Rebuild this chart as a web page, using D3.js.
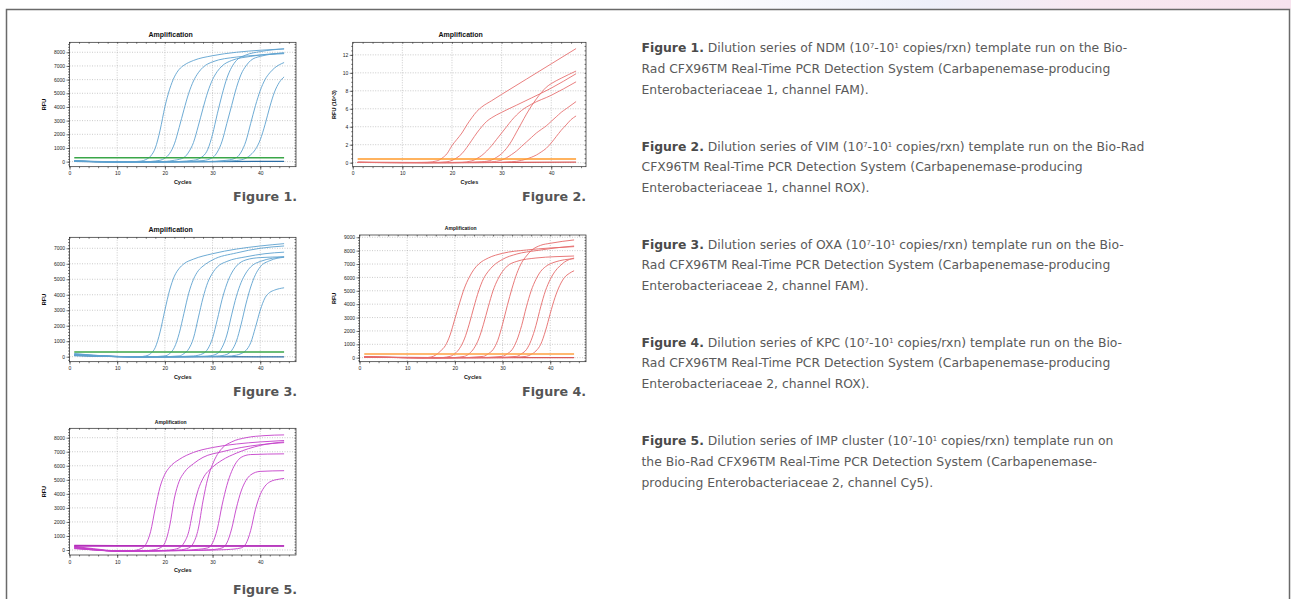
<!DOCTYPE html>
<html>
<head>
<meta charset="utf-8">
<script src="https://cdn.jsdelivr.net/npm/d3@7"></script>
<style>
  html, body { margin: 0; padding: 0; background: #fff; }
  svg { display: block; }
</style>
</head>
<body>
<svg id="page" width="1291" height="599"></svg>
<script>
// ---- data ----
const cycleTicks = [0, 10, 20, 30, 40];
const ndmTicks = [0, 1000, 2000, 3000, 4000, 5000, 6000, 7000, 8000];
const vimTicks = [0, 2, 4, 6, 8, 10, 12];
const oxaTicks = [0, 1000, 2000, 3000, 4000, 5000, 6000, 7000];
const kpcTicks = [0, 1000, 2000, 3000, 4000, 5000, 6000, 7000, 8000, 9000];
const impTicks = [0, 1000, 2000, 3000, 4000, 5000, 6000, 7000, 8000];

// threshold line of each run, in the plot's own units
const thresholds = [280, 0.4, 300, 280, 290];

// curves are [cycle, RFU] points
const ndmCurves = [
  [[1,60],[8,0],[12,-20],[15,40],[16,150],[17,400],[18,1000],[19,2300],[20,4000],[21,5300],[22,6200],[23,6750],[24,7050],[26,7400],[30,7750],[35,8000],[40,8150],[45,8250]],
  [[1,60],[10,-20],[15,-20],[19,100],[20,250],[21,600],[22,1300],[23,2500],[24,3800],[25,5000],[26,5900],[27,6500],[28,6900],[30,7300],[35,7650],[40,7800],[45,7900]],
  [[1,50],[10,-30],[18,-20],[22,100],[24,300],[25,700],[26,1400],[27,2600],[28,3900],[29,5100],[30,6000],[31,6600],[32,7000],[34,7400],[38,7700],[45,7950]],
  [[1,50],[10,-30],[20,-20],[26,100],[28,400],[29,900],[30,2000],[31,3500],[32,4900],[33,6100],[34,6900],[35,7400],[37,7800],[40,8050],[45,8250]],
  [[1,40],[10,-30],[22,-20],[28,80],[30,300],[31,700],[32,1500],[33,2800],[34,4100],[35,5400],[36,6400],[37,7000],[38,7400],[40,7700],[45,7950]],
  [[1,30],[15,-30],[28,0],[33,100],[35,300],[36,700],[37,1500],[38,2800],[39,4100],[40,5200],[41,6000],[42,6500],[43,6850],[45,7250]],
  [[1,30],[15,-30],[30,0],[35,80],[37,250],[38,500],[39,900],[40,1600],[41,2700],[42,4000],[43,5100],[44,5800],[45,6200]]
];
const ndmBlank = [[1,20],[10,-10],[20,0],[30,5],[45,20]];

const vimCurves = [
  [[1,0.02],[10,0],[15,0.05],[17,0.2],[18,0.5],[19,1.0],[20,1.9],[21,2.6],[22,3.3],[23,4.2],[24,5.0],[25,5.7],[26,6.2],[28,6.9],[30,7.6],[35,9.3],[40,11.0],[45,12.7]],
  [[1,0.02],[15,0],[19,0.1],[20,0.25],[21,0.55],[22,1.0],[23,1.7],[24,2.5],[25,3.3],[26,4.0],[27,4.6],[28,5.0],[30,5.6],[33,6.4],[36,7.2],[40,8.3],[45,9.9]],
  [[1,0.02],[15,0],[22,0.05],[24,0.2],[25,0.45],[26,0.8],[27,1.3],[28,1.9],[29,2.6],[30,3.3],[31,4.0],[32,4.7],[33,5.3],[34,5.8],[36,6.5],[40,7.5],[45,9.0]],
  [[1,0.02],[20,0],[26,0.1],[28,0.3],[29,0.6],[30,1.0],[31,1.6],[32,2.4],[33,3.4],[34,4.4],[35,5.4],[36,6.3],[37,7.1],[38,7.8],[39,8.4],[40,8.8],[42,9.4],[45,10.2]],
  [[1,0.02],[20,0],[28,0.1],[30,0.3],[31,0.55],[32,0.9],[33,1.3],[34,1.8],[35,2.3],[36,2.8],[37,3.3],[38,3.7],[39,4.1],[40,4.6],[41,5.1],[42,5.6],[43,6.0],[45,6.8]],
  [[1,0.02],[25,0],[32,0.1],[34,0.25],[35,0.4],[36,0.6],[37,0.85],[38,1.2],[39,1.6],[40,2.2],[41,2.9],[42,3.6],[43,4.2],[44,4.8],[45,5.2]]
];
const vimBlank = [[1,0.05],[15,0],[30,0.02],[45,0.05]];

const oxaCurves = [
  [[1,200],[5,100],[10,20],[14,-20],[16,50],[17,200],[18,600],[19,1600],[20,3000],[21,4300],[22,5200],[23,5700],[24,6000],[26,6300],[30,6650],[35,6950],[40,7150],[45,7300]],
  [[1,180],[10,10],[15,-30],[20,50],[21,200],[22,600],[23,1500],[24,2800],[25,4100],[26,5000],[27,5550],[28,5850],[30,6250],[35,6700],[40,7000],[45,7150]],
  [[1,150],[10,0],[17,-30],[23,50],[24,200],[25,500],[26,1200],[27,2500],[28,3800],[29,4800],[30,5400],[31,5800],[33,6150],[37,6450],[41,6650],[45,6750]],
  [[1,130],[10,0],[18,-30],[26,50],[28,200],[29,500],[30,1200],[31,2400],[32,3700],[33,4700],[34,5400],[35,5850],[37,6250],[40,6400],[45,6450]],
  [[1,110],[10,0],[20,-30],[29,40],[31,200],[32,600],[33,1400],[34,2700],[35,3900],[36,4800],[37,5400],[38,5800],[40,6150],[45,6450]],
  [[1,90],[12,0],[22,-20],[31,40],[33,150],[34,400],[35,1000],[36,2100],[37,3400],[38,4500],[39,5300],[40,5800],[42,6200],[45,6420]],
  [[1,60],[15,0],[25,-10],[33,30],[35,100],[36,200],[37,400],[38,900],[39,1900],[40,3000],[41,3800],[42,4150],[43,4300],[45,4450]]
];
const oxaBlank = [[1,80],[10,10],[25,0],[45,-10]];

const kpcCurves = [
  [[1,60],[10,0],[13,-20],[15,50],[16,200],[17,500],[18,900],[19,1700],[20,2900],[21,4100],[22,5200],[23,6000],[24,6600],[25,7000],[27,7450],[30,7800],[35,8050],[40,8200],[45,8300]],
  [[1,60],[10,0],[16,-20],[19,100],[20,300],[21,700],[22,1400],[23,2500],[24,3800],[25,5000],[26,5900],[27,6450],[28,6850],[30,7350],[33,7750],[37,8000],[41,8200],[45,8350]],
  [[1,50],[10,0],[18,-20],[22,100],[23,300],[24,700],[25,1400],[26,2500],[27,3800],[28,5000],[29,5850],[30,6450],[31,6850],[33,7200],[37,7450],[41,7550],[45,7600]],
  [[1,50],[10,0],[20,-10],[26,100],[27,300],[28,600],[29,1300],[30,2500],[31,3900],[32,5200],[33,6300],[34,7100],[35,7600],[36,8000],[38,8400],[40,8550],[45,8800]],
  [[1,40],[15,0],[24,0],[30,100],[31,300],[32,600],[33,1300],[34,2400],[35,3800],[36,5000],[37,5850],[38,6450],[39,6800],[41,7150],[45,7400]],
  [[1,30],[15,0],[27,0],[33,100],[34,300],[35,600],[36,1300],[37,2400],[38,3800],[39,5000],[40,5850],[41,6450],[42,6850],[43,7150],[45,7450]],
  [[1,30],[15,0],[30,0],[35,100],[36,250],[37,500],[38,1000],[39,2000],[40,3300],[41,4500],[42,5400],[43,6000],[44,6300],[45,6500]]
];
const kpcBlank = [[1,40],[15,0],[45,10]];

const impCurves = [
  [[1,250],[5,100],[10,-60],[13,-50],[15,100],[16,400],[17,1300],[18,3000],[19,4500],[20,5400],[21,5900],[23,6450],[26,6950],[30,7300],[35,7550],[40,7700],[45,7800]],
  [[1,230],[5,50],[10,-80],[14,-80],[17,-20],[19,150],[20,500],[21,1700],[22,3700],[23,4900],[24,5500],[26,6150],[28,6600],[32,7000],[36,7300],[40,7500],[45,7650]],
  [[1,200],[5,50],[10,-90],[16,-80],[21,0],[23,150],[24,500],[25,1300],[26,3000],[27,4300],[28,5100],[30,5900],[32,6400],[35,6900],[40,7450],[45,7700]],
  [[1,180],[5,40],[10,-90],[18,-70],[23,0],[25,150],[26,500],[27,1500],[28,3500],[29,5100],[30,6100],[31,6800],[32,7250],[34,7700],[37,8000],[41,8150],[45,8200]],
  [[1,150],[10,-80],[20,-60],[27,50],[29,150],[30,500],[31,1500],[32,3200],[33,4600],[34,5600],[35,6250],[36,6600],[38,6800],[45,6850]],
  [[1,120],[10,-60],[22,-50],[30,30],[32,150],[33,500],[34,1500],[35,3000],[36,4200],[37,4950],[38,5350],[40,5600],[45,5650]],
  [[1,100],[10,-50],[25,-40],[33,30],[36,150],[37,450],[38,1400],[39,2900],[40,3950],[41,4550],[42,4850],[44,5050],[45,5100]]
];
const impBlank = [[1,330],[10,310],[25,300],[45,300]];

const panelTitles = ["Amplification", "Amplification", "Amplification", "Amplification", "Amplification"];
const yAxisLabels = ["RFU", "RFU (10^3)", "RFU", "RFU", "RFU"];
const figureLabels = ["Figure 1.", "Figure 2.", "Figure 3.", "Figure 4.", "Figure 5."];

// ** ** = bold, ^n = superscript
const captions = [
  ["**Figure 1.** Dilution series of NDM (10^7-10^1 copies/rxn) template run on the Bio-",
   "Rad CFX96TM Real-Time PCR Detection System (Carbapenemase-producing",
   "Enterobacteriaceae 1, channel FAM)."],
  ["**Figure 2.** Dilution series of VIM (10^7-10^1 copies/rxn) template run on the Bio-Rad",
   "CFX96TM Real-Time PCR Detection System (Carbapenemase-producing",
   "Enterobacteriaceae 1, channel ROX)."],
  ["**Figure 3.** Dilution series of OXA (10^7-10^1 copies/rxn) template run on the Bio-",
   "Rad CFX96TM Real-Time PCR Detection System (Carbapenemase-producing",
   "Enterobacteriaceae 2, channel FAM)."],
  ["**Figure 4.** Dilution series of KPC (10^7-10^1 copies/rxn) template run on the Bio-",
   "Rad CFX96TM Real-Time PCR Detection System (Carbapenemase-producing",
   "Enterobacteriaceae 2, channel ROX)."],
  ["**Figure 5.** Dilution series of IMP cluster (10^7-10^1 copies/rxn) template run on",
   "the Bio-Rad CFX96TM Real-Time PCR Detection System (Carbapenemase-",
   "producing Enterobacteriaceae 2, channel Cy5)."]
];

// ---- layout ----
const svg = d3.select("#page");

const defs = svg.append("defs");
const grad = defs.append("linearGradient").attr("id", "topwash");
grad.append("stop").attr("offset", "0.5").attr("stop-color", "#ffffff");
grad.append("stop").attr("offset", "0.72").attr("stop-color", "#eef0fa");
grad.append("stop").attr("offset", "0.85").attr("stop-color", "#f8e8f1");
grad.append("stop").attr("offset", "1").attr("stop-color", "#f7e3ee");
svg.append("rect").attr("x", 0).attr("y", 0).attr("width", 1291).attr("height", 9).attr("fill", "url(#topwash)");

svg.append("rect")
  .attr("x", 6.5).attr("y", 9.5).attr("width", 1283).attr("height", 640)
  .attr("fill", "#fff").attr("stroke", "#6a6a6a").attr("stroke-width", 1.5);

const panels = [
  { curves: ndmCurves, blank: ndmBlank, ticks: ndmTicks, minor: 200, yDomain: [-370, 8730],
    left: 69.5, right: 296, top: 42.3, bottom: 166.7, xMax: 47.5, titleX: 170.7, titleY: 36.5, titleSize: 7,
    yLabelX: 44, color: "#5da2cf", blankColor: "#2c6da4", thrColor: "#3aa648" },
  { curves: vimCurves, blank: vimBlank, ticks: vimTicks, minor: 0.5, yDomain: [-0.45, 13.4],
    left: 352.7, right: 586, top: 42.3, bottom: 166.7, xMax: 47, titleX: 460.7, titleY: 36.5, titleSize: 7,
    yLabelX: 334, color: "#e77272", blankColor: "#d65a5a", thrColor: "#ff9a2a" },
  { curves: oxaCurves, blank: oxaBlank, ticks: oxaTicks, minor: 200, yDomain: [-323, 7710],
    left: 69.5, right: 296, top: 237.3, bottom: 361.7, xMax: 47.5, titleX: 170.7, titleY: 231.5, titleSize: 7,
    yLabelX: 44, color: "#5da2cf", blankColor: "#2c6da4", thrColor: "#3aa648" },
  { curves: kpcCurves, blank: kpcBlank, ticks: kpcTicks, minor: 200, yDomain: [-300, 9170],
    left: 359.5, right: 586, top: 235, bottom: 361.7, xMax: 47.5, titleX: 460.7, titleY: 229.5, titleSize: 5,
    yLabelX: 334, color: "#e56a6a", blankColor: "#d65a5a", thrColor: "#ffa040" },
  { curves: impCurves, blank: impBlank, ticks: impTicks, minor: 200, yDomain: [-356, 8670],
    left: 69.5, right: 296, top: 428.3, bottom: 555, xMax: 47.5, titleX: 170.7, titleY: 423.5, titleSize: 5,
    yLabelX: 44, color: "#c43fca", blankColor: "#b02fb6", thrColor: "#b530bb" }
];

const chartFont = "Liberation Sans, Arial, sans-serif";

function drawPanel(p, i) {
  const g = svg.append("g").attr("font-family", chartFont);
  const x = d3.scaleLinear().domain([0, p.xMax]).range([p.left, p.right]);
  const y = d3.scaleLinear().domain(p.yDomain).range([p.bottom, p.top]);

  // dotted grid
  g.append("g").selectAll("line").data(cycleTicks.filter(t => t > 0)).join("line")
    .attr("x1", d => x(d)).attr("x2", d => x(d)).attr("y1", p.top).attr("y2", p.bottom)
    .attr("stroke", "#a8a8a8").attr("stroke-width", 0.6).attr("stroke-dasharray", "1,1.5");
  g.append("g").selectAll("line").data(p.ticks).join("line")
    .attr("x1", p.left).attr("x2", p.right).attr("y1", d => y(d)).attr("y2", d => y(d))
    .attr("stroke", "#a8a8a8").attr("stroke-width", 0.6).attr("stroke-dasharray", "1,1.5");

  // clip
  const clipId = "clip" + i;
  defs.append("clipPath").attr("id", clipId).append("rect")
    .attr("x", p.left).attr("y", p.top).attr("width", p.right - p.left).attr("height", p.bottom - p.top);

  const line = d3.line().x(d => x(d[0])).y(d => y(d[1])).curve(d3.curveMonotoneX);
  const plot = g.append("g").attr("clip-path", `url(#${clipId})`);

  plot.append("path").attr("d", line(p.blank)).attr("fill", "none")
    .attr("stroke", p.blankColor).attr("stroke-width", 1.2);
  plot.selectAll("path.amp").data(p.curves).join("path").attr("class", "amp")
    .attr("d", d => line(d)).attr("fill", "none")
    .attr("stroke", p.color).attr("stroke-width", 0.9);

  plot.append("line")
    .attr("x1", x(1)).attr("x2", x(45)).attr("y1", y(thresholds[i])).attr("y2", y(thresholds[i]))
    .attr("stroke", p.thrColor).attr("stroke-width", 1.6);

  // axes
  const step = p.ticks[1] - p.ticks[0];
  const yMinor = d3.range(p.yDomain[0] < 0 ? -step : 0, p.yDomain[1], p.minor)
    .map(v => +v.toFixed(3)).filter(v => v >= p.yDomain[0] && v <= p.yDomain[1]);
  const xMinor = d3.range(0, p.xMax, 2);
  const fmt = d => d;

  const styleAxis = sel => {
    sel.select(".domain").remove();
    sel.selectAll("line").attr("stroke", "#222").attr("stroke-width", 0.6);
    sel.selectAll("text").attr("font-size", 5).attr("fill", "#222").attr("font-family", chartFont);
  };

  g.append("g").attr("transform", `translate(${p.left},0)`)
    .call(d3.axisLeft(y).tickValues(yMinor).tickSize(1.5).tickFormat("")).call(styleAxis);
  g.append("g").attr("transform", `translate(${p.left},0)`)
    .call(d3.axisLeft(y).tickValues(p.ticks).tickSize(3).tickPadding(1.5).tickFormat(fmt)).call(styleAxis);
  g.append("g").attr("transform", `translate(${p.right},0)`)
    .call(d3.axisLeft(y).tickValues(yMinor).tickSize(1.5).tickFormat("")).call(styleAxis);
  g.append("g").attr("transform", `translate(0,${p.bottom})`)
    .call(d3.axisBottom(x).tickValues(xMinor).tickSize(1.5).tickFormat("")).call(styleAxis);
  g.append("g").attr("transform", `translate(0,${p.bottom})`)
    .call(d3.axisBottom(x).tickValues(cycleTicks).tickSize(3).tickPadding(2).tickFormat(fmt)).call(styleAxis);
  g.append("g").attr("transform", `translate(0,${p.top})`)
    .call(d3.axisTop(x).tickValues(xMinor).tickSize(-1.5).tickFormat("")).call(styleAxis);

  // frame
  g.append("rect").attr("x", p.left).attr("y", p.top)
    .attr("width", p.right - p.left).attr("height", p.bottom - p.top)
    .attr("fill", "none").attr("stroke", "#222").attr("stroke-width", 0.7);

  // labels
  g.append("text").attr("x", p.titleX).attr("y", p.titleY).attr("text-anchor", "middle")
    .attr("font-size", p.titleSize).attr("font-weight", "bold").attr("fill", "#111")
    .text(panelTitles[i]);
  g.append("text").attr("x", (p.left + p.right) / 2).attr("y", p.bottom + 17)
    .attr("text-anchor", "middle").attr("font-size", 5.5).attr("font-weight", "bold").attr("fill", "#111")
    .text("Cycles");
  g.append("text")
    .attr("transform", `translate(${p.yLabelX + 2},${(p.top + p.bottom) / 2}) rotate(-90)`)
    .attr("text-anchor", "middle").attr("font-size", 5.5).attr("font-weight", "bold").attr("fill", "#111")
    .text(yAxisLabels[i]);
}

panels.forEach(drawPanel);

// figure labels under the plots
const captionFont = "DejaVu Sans, Verdana, sans-serif";
const labelPos = [[297, 200.5], [586, 200.5], [297, 395.5], [586, 395.5], [297, 593.5]];
const probe = svg.append("text").attr("font-family", captionFont).attr("font-weight", "bold")
  .attr("font-size", 16).text(figureLabels[0]);
const labelSize = 16 * 64 / probe.node().getComputedTextLength();
probe.remove();

svg.append("g").selectAll("text").data(figureLabels).join("text")
  .attr("x", (d, i) => labelPos[i][0]).attr("y", (d, i) => labelPos[i][1])
  .attr("text-anchor", "end").attr("font-family", captionFont).attr("font-weight", "bold")
  .attr("font-size", labelSize).attr("fill", "#555").text(d => d);

// caption block on the right
const capProbe = svg.append("text").attr("font-family", captionFont).attr("font-size", 15).text(captions[0][1]);
const capSize = 15 * 469 / capProbe.node().getComputedTextLength();
capProbe.remove();

const captionTop = [52, 150.5, 248.5, 346.5, 445];
const lineGap = 20.9;
captions.forEach((lines, ci) => {
  lines.forEach((ln, li) => {
    const t = svg.append("text").attr("x", 641.5).attr("y", captionTop[ci] + li * lineGap)
      .attr("font-family", captionFont).attr("font-size", capSize).attr("fill", "#5a5a5a");
    ln.split(/(\*\*.*?\*\*|\^\d)/).filter(s => s.length).forEach(seg => {
      if (seg.startsWith("**")) {
        t.append("tspan").attr("font-weight", "bold").attr("fill", "#4a4a4a").text(seg.slice(2, -2));
      } else if (seg.startsWith("^")) {
        t.append("tspan").attr("font-size", capSize * 0.55).attr("baseline-shift", "super").text(seg.slice(1));
      } else {
        t.append("tspan").text(seg);
      }
    });
  });
});
</script>
</body>
</html>
